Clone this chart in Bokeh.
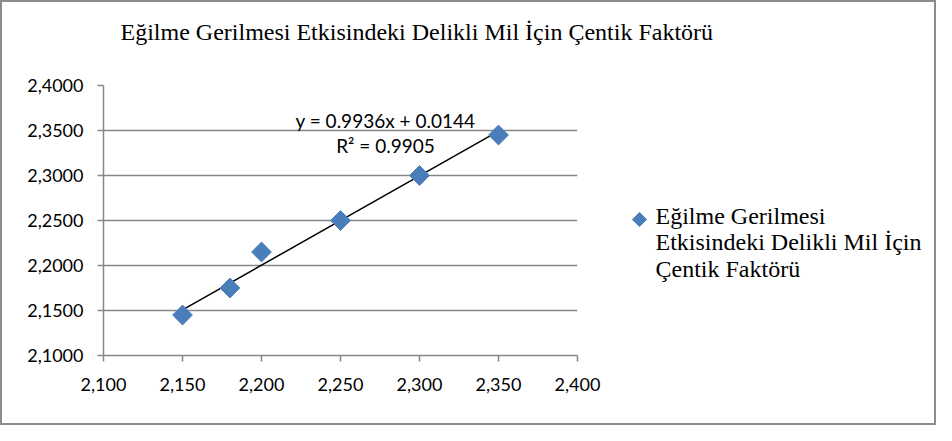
from bokeh.plotting import figure
from bokeh.models import Range1d, FixedTicker, Label
from bokeh.layouts import column, row
from bokeh.embed import file_html
from bokeh.resources import INLINE
import numpy as np

# ---- data ----
x_vals = [2.15, 2.18, 2.20, 2.25, 2.30, 2.35]
y_vals = [2.145, 2.175, 2.215, 2.250, 2.300, 2.345]
trend_slope = 0.9936
trend_intercept = 0.0144
r_squared = 0.9905
x_ticks = [2.10, 2.15, 2.20, 2.25, 2.30, 2.35, 2.40]
x_tick_labels = ["2,100", "2,150", "2,200", "2,250", "2,300", "2,350", "2,400"]
y_ticks = [2.10, 2.15, 2.20, 2.25, 2.30, 2.35, 2.40]
y_tick_labels = ["2,1000", "2,1500", "2,2000", "2,2500", "2,3000", "2,3500", "2,4000"]
title_text = "Eğilme Gerilmesi Etkisindeki Delikli Mil İçin Çentik Faktörü"
series_name_lines = ["Eğilme Gerilmesi", "Etkisindeki Delikli Mil İçin", "Çentik Faktörü"]

GREY = "#868686"
BLUE = "#4a7ebb"
TICK_FONT = "Lato"
SERIF = "Liberation Serif"

# ---------- title strip ----------
top = figure(width=932, height=60, output_backend="svg", toolbar_location=None,
             x_axis_location=None, y_axis_location=None, min_border=0,
             x_range=Range1d(0, 1), y_range=Range1d(0, 1))
top.outline_line_color = None
top.grid.visible = False
top.add_layout(Label(x=118, y=31, x_units="screen", y_units="screen", text=title_text,
                     text_font=SERIF, text_font_size="24px", text_align="left",
                     text_baseline="middle", text_color="black"))

# ---------- main chart ----------
MAIN_H, BORDER_T, BORDER_B = 361, 23, 68
p = figure(width=600, height=MAIN_H, output_backend="svg", toolbar_location=None,
           x_range=Range1d(2.10, 2.40), y_range=Range1d(2.10, 2.40),
           min_border_left=101, min_border_right=25,
           min_border_top=BORDER_T, min_border_bottom=BORDER_B)
p.outline_line_color = None

for ax in (p.xaxis[0], p.yaxis[0]):
    ax.axis_line_color = GREY
    ax.axis_line_width = 1.5
    ax.major_tick_line_color = GREY
    ax.major_tick_line_width = 1.5
    ax.major_tick_in = 0
    ax.major_tick_out = 6
    ax.minor_tick_line_color = None
    ax.major_label_text_font = TICK_FONT
    ax.major_label_text_font_size = "18px"
    ax.major_label_text_color = "#000000"
p.xaxis.ticker = FixedTicker(ticks=x_ticks)
p.yaxis.ticker = FixedTicker(ticks=y_ticks)
p.xaxis.major_label_overrides = dict(zip(x_ticks, x_tick_labels))
p.yaxis.major_label_overrides = dict(zip(y_ticks, y_tick_labels))
p.xaxis.major_label_standoff = 16
p.yaxis.major_label_standoff = 14

p.xgrid.grid_line_color = None
p.ygrid.grid_line_color = GREY
p.ygrid.grid_line_width = 1.5
p.ygrid.ticker = FixedTicker(ticks=y_ticks)

tx = np.array([min(x_vals), max(x_vals)])
ty = trend_slope * tx + trend_intercept
p.line(tx, ty, line_color="black", line_width=1.5)

p.scatter(x_vals, y_vals, marker="square", size=14, angle=np.pi / 4,
          fill_color=BLUE, line_color=BLUE)

p.add_layout(Label(x=282, y=235, x_units="screen", y_units="screen",
                   text=f"y = {trend_slope}x + {trend_intercept}",
                   text_font=TICK_FONT, text_font_size="19px", text_align="center",
                   text_baseline="middle", text_color="black"))
p.add_layout(Label(x=282, y=210, x_units="screen", y_units="screen",
                   text=f"R² = {r_squared}",
                   text_font=TICK_FONT, text_font_size="19px", text_align="center",
                   text_baseline="middle", text_color="black"))

# ---------- legend panel (its frame is aligned with the chart frame by the row) ----------
LEG_W = 332
FRAME_H = MAIN_H - BORDER_T - BORDER_B
leg = figure(width=LEG_W, height=MAIN_H, output_backend="svg", toolbar_location=None,
             x_axis_location=None, y_axis_location=None, min_border=0,
             x_range=Range1d(0, LEG_W), y_range=Range1d(0, FRAME_H))
leg.outline_line_color = None
leg.grid.visible = False
key_x, key_y, line_gap, text_x, text_dy = 37, 136, 26.5, 53, 4
leg.scatter([key_x], [key_y], marker="square", size=10, angle=np.pi / 4,
            fill_color=BLUE, line_color=BLUE)
for i, t in enumerate(series_name_lines):
    leg.add_layout(Label(x=text_x, y=key_y + text_dy - i * line_gap,
                         x_units="screen", y_units="screen",
                         text=t, text_font=SERIF, text_font_size="24px", text_align="left",
                         text_baseline="middle", text_color="black"))

layout = column(top, row(p, leg, spacing=0), spacing=0)
layout.styles = {"border": "2px solid #8c8c8c", "background": "white"}

open("out.html", "w").write(file_html(layout, INLINE))
